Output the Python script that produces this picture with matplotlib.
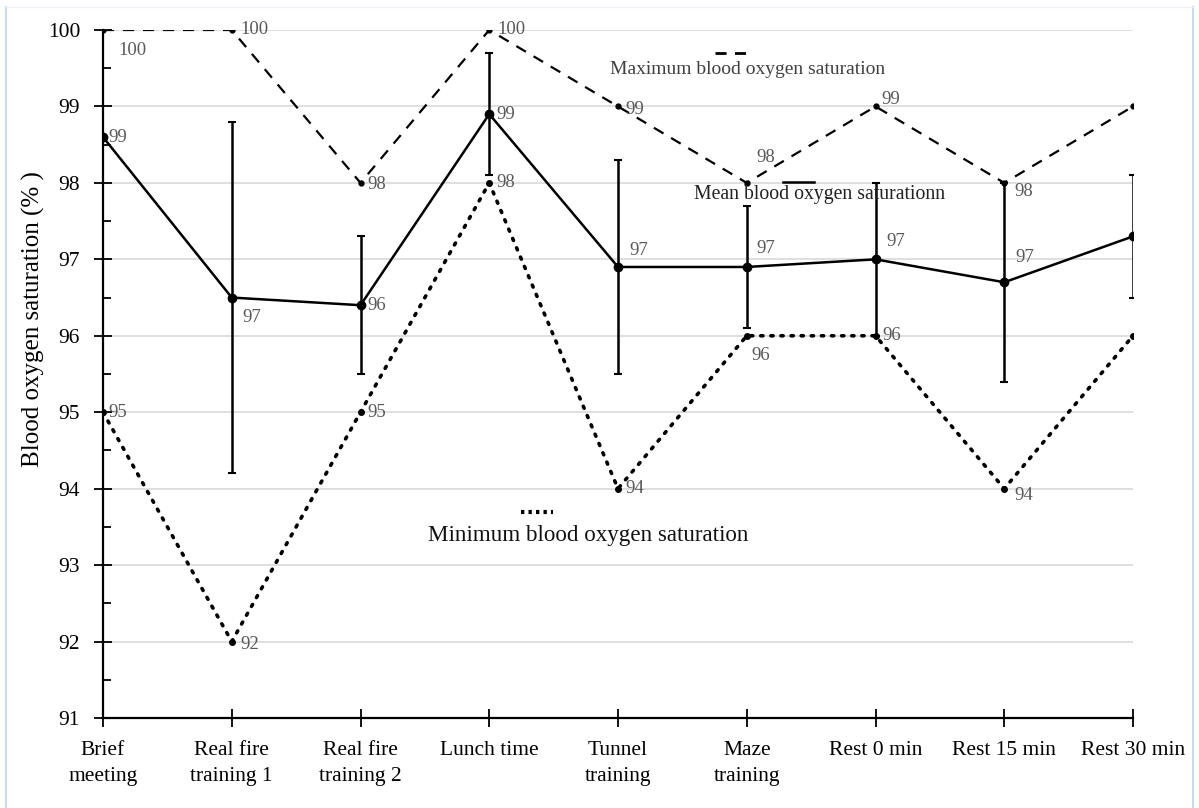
import matplotlib
matplotlib.use("Agg")
import matplotlib.pyplot as plt
from matplotlib.lines import Line2D

categories = ["Brief\nmeeting", "Real fire\ntraining 1", "Real fire\ntraining 2", "Lunch time",
              "Tunnel\ntraining", "Maze\ntraining", "Rest 0 min", "Rest 15 min", "Rest 30 min"]
mean_vals = [98.6, 96.5, 96.4, 98.9, 96.9, 96.9, 97.0, 96.7, 97.3]
mean_err = [0.0, 2.3, 0.9, 0.8, 1.4, 0.8, 1.0, 1.3, 0.8]
max_vals = [100, 100, 98, 100, 99, 98, 99, 98, 99]
min_vals = [95, 92, 95, 98, 94, 96, 96, 94, 96]
mean_labels = ["99", "97", "96", "99", "97", "97", "97", "97", None]
max_labels = ["100", "100", "98", "100", "99", "98", "99", "98", None]
min_labels = ["95", "92", "95", "98", "94", "96", "96", "94", None]
yticks = [91, 92, 93, 94, 95, 96, 97, 98, 99, 100]

# label offsets in points (dx, dy)
mean_off = [(4, 0), (8, -14), (5, 0), (5, 0), (8, 12), (7, 13), (8, 13), (8, 18), (0, 0)]
max_off = [(11, -15), (6, 0), (5, -1), (6, 0), (5, -2), (7, 18), (4, 5), (7, -6), (0, 0)]
min_off = [(4, 0), (6, -2), (5, 0), (5, 0), (5, 0), (3, -14), (5, 0), (7, -5), (0, 0)]

SERIF = ["Liberation Serif", "DejaVu Serif"]
plt.rcParams['font.family'] = SERIF

fig = plt.figure(figsize=(11.99, 8.08), dpi=100)
ax = fig.add_axes([103/1199, 1-718/808, 1030/1199, 688/808])

x = list(range(len(categories)))
ax.plot(x, max_vals, color="black", lw=1.6, ls=(0, (5, 4)), marker="o", ms=3.5, zorder=3)
ax.plot(x, min_vals, color="black", lw=2.6, ls=(0, (0.6, 2.2)), dash_capstyle="round",
        marker="o", ms=4, zorder=3)
ax.errorbar(x, mean_vals, yerr=mean_err, color="black", lw=1.8, elinewidth=1.8,
            capsize=3, capthick=1.5, marker="o", ms=6, zorder=4)

lab_color = "#595959"
for i in x:
    for vals, labs, offs in ((mean_vals, mean_labels, mean_off),
                             (max_vals, max_labels, max_off),
                             (min_vals, min_labels, min_off)):
        if labs[i] is None:
            continue
        ax.annotate(labs[i], (i, vals[i]), xytext=offs[i], textcoords="offset points",
                    ha="left", va="center", fontsize=13.5, color=lab_color)

ax.set_xlim(0, 8)
ax.set_ylim(91, 100)
ax.set_yticks(yticks)
ax.set_yticks([v + 0.5 for v in yticks[:-1]], minor=True)
ax.set_xticks(x)
ax.set_xticklabels(categories, fontsize=15.5, linespacing=1.5)
ax.tick_params(axis="y", which="major", direction="inout", length=13, width=1.3, labelsize=15.5, pad=10)
ax.tick_params(axis="y", which="minor", direction="in", length=6, width=1.3)
ax.tick_params(axis="x", which="major", direction="inout", length=13, width=1.3, pad=10)
ax.grid(axis="y", color="#d9d9d9", lw=1.2)
ax.set_axisbelow(True)
for s in ("top", "right"):
    ax.spines[s].set_visible(False)
for s in ("left", "bottom"):
    ax.spines[s].set_linewidth(1.6)
ax.set_ylabel("Blood oxygen saturation (% )", fontsize=18)
ax.yaxis.set_label_coords(-0.056, 0.58)

# in-plot legend-like annotations
def fx(px):
    return px / 1199
def fy(py):
    return 1 - py / 808

fig.add_artist(Line2D([fx(715), fx(752)], [fy(53), fy(53)], color="black", lw=2, ls=(0, (4, 3))))
fig.text(fx(610), fy(70), "Maximum blood oxygen saturation", fontsize=14, color="#404040", va="center")
fig.add_artist(Line2D([fx(783), fx(814)], [fy(182), fy(182)], color="black", lw=1.8))
fig.text(fx(694), fy(195), "Mean blood oxygen saturationn", fontsize=14.2, color="#222222", va="center")
fig.add_artist(Line2D([fx(521), fx(553)], [fy(512), fy(512)], color="black", lw=3, ls=(0, (0.8, 1.0))))
fig.text(fx(428), fy(536), "Minimum blood oxygen saturation", fontsize=16.6, color="#111111", va="center")

# light frame
fig.add_artist(Line2D([fx(6), fx(6)], [fy(7), fy(808)], color="#c9daf0", lw=1.5))
fig.add_artist(Line2D([fx(1193), fx(1193)], [fy(7), fy(808)], color="#c9daf0", lw=1.5))
fig.add_artist(Line2D([fx(6), fx(1193)], [fy(7), fy(7)], color="#eef2f8", lw=1.0))

fig.savefig("out.png", dpi=100, facecolor="white")
